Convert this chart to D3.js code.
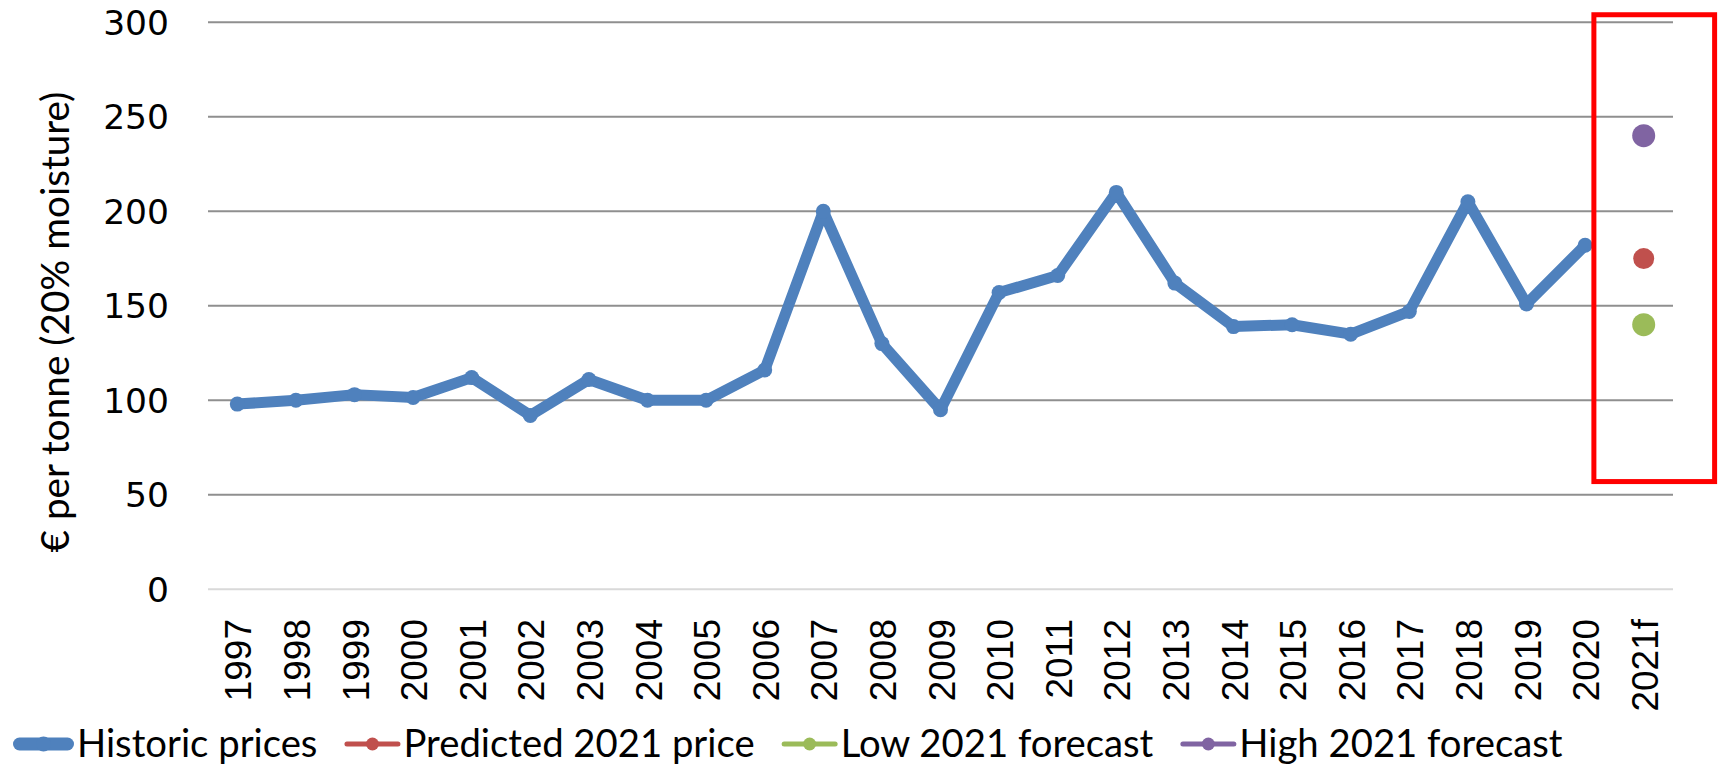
<!DOCTYPE html>
<html>
<head>
<meta charset="utf-8">
<script src="https://cdn.jsdelivr.net/npm/d3@7"></script>
<style>
  html, body { margin: 0; padding: 0; background: #fff; }
  svg { display: block; }
</style>
</head>
<body>
<svg id="chart" width="1720" height="768"></svg>
<script>
// ---- data ----
const categories = ["1997","1998","1999","2000","2001","2002","2003","2004","2005","2006",
  "2007","2008","2009","2010","2011","2012","2013","2014","2015","2016","2017","2018",
  "2019","2020","2021f"];
const historicYears = categories.slice(0, 24);
const historicPrices = [98, 100, 103, 101.5, 112, 92, 111, 100, 100, 116,
  200, 130, 95, 157, 166, 210, 162, 139, 140, 135, 147, 205, 151, 182];
const forecastCategory = "2021f";
const predicted2021 = [175];
const low2021 = [140];
const high2021 = [240];
const yTicks = [0, 50, 100, 150, 200, 250, 300];
const seriesNames = ["Historic prices", "Predicted 2021 price", "Low 2021 forecast", "High 2021 forecast"];
const axisTitle = "€ per tonne (20% moisture)";

// ---- styles ----
const colors = { hist: "#4F81BD", pred: "#C0504D", low: "#9BBB59", high: "#8064A2" };
const humanist = "Lato, 'Noto Sans', sans-serif";

const svg = d3.select("#chart");
const plot = { left: 208, right: 1673, top: 22.3, bottom: 589.3 };

const x = d3.scalePoint().domain(categories).range([plot.left, plot.right]).padding(0.5);
const y = d3.scaleLinear().domain([0, 300]).range([plot.bottom, plot.top]);

// gridlines
svg.append("g").selectAll("line").data(yTicks.filter(d => d > 0)).join("line")
  .attr("x1", plot.left).attr("x2", plot.right)
  .attr("y1", d => y(d)).attr("y2", d => y(d))
  .attr("stroke", "#8f8f8f").attr("stroke-width", 2);

// zero axis line
svg.append("line")
  .attr("x1", plot.left).attr("x2", plot.right)
  .attr("y1", y(0)).attr("y2", y(0))
  .attr("stroke", "#d9d9d9").attr("stroke-width", 2);

// y tick labels
svg.append("g").selectAll("text").data(yTicks).join("text")
  .attr("x", 169).attr("y", d => y(d))
  .attr("dy", "0.36em")
  .attr("text-anchor", "end")
  .attr("font-family", "'DejaVu Sans', Verdana, sans-serif")
  .attr("font-size", 34.5)
  .attr("fill", "#000")
  .text(d => d);

// x tick labels (rotated)
svg.append("g").selectAll("text").data(categories).join("text")
  .attr("transform", d => `translate(${x(d)},619) rotate(-90)`)
  .attr("dy", "0.38em")
  .attr("text-anchor", "end")
  .attr("font-family", "'Liberation Sans', Arial, sans-serif")
  .attr("font-size", 37)
  .attr("fill", "#000")
  .text(d => d);

// y axis title
const yTitle = svg.append("text")
  .attr("transform", `translate(54,322) rotate(-90)`)
  .attr("text-anchor", "middle")
  .attr("dominant-baseline", "central")
  .attr("font-family", humanist)
  .attr("font-size", 40)
  .attr("fill", "#000")
  .text(axisTitle);
(function fit(sel, target) {
  const w = sel.node().getComputedTextLength();
  const fs = +sel.attr("font-size");
  sel.attr("font-size", fs * target / w);
})(yTitle, 461);

// historic line
const line = d3.line().x((d, i) => x(historicYears[i])).y(d => y(d));
svg.append("path").datum(historicPrices)
  .attr("d", line)
  .attr("fill", "none")
  .attr("stroke", colors.hist)
  .attr("stroke-width", 11)
  .attr("stroke-linejoin", "round")
  .attr("stroke-linecap", "round");
svg.append("g").selectAll("circle").data(historicPrices).join("circle")
  .attr("cx", (d, i) => x(historicYears[i])).attr("cy", d => y(d))
  .attr("r", 7.5).attr("fill", colors.hist);

// forecast points
const fc = [
  { v: high2021[0], c: colors.high, r: 11.5 },
  { v: predicted2021[0], c: colors.pred, r: 10.5 },
  { v: low2021[0], c: colors.low, r: 11.5 }
];
svg.append("g").selectAll("circle").data(fc).join("circle")
  .attr("cx", x(forecastCategory)).attr("cy", d => y(d.v))
  .attr("r", d => d.r).attr("fill", d => d.c);

// red highlight box around forecast column
const step = x.step();
svg.append("rect")
  .attr("x", x(forecastCategory) - step * 0.85)
  .attr("y", y(304))
  .attr("width", step * 2.06)
  .attr("height", y(57) - y(304))
  .attr("fill", "none")
  .attr("stroke", "#FF0000")
  .attr("stroke-width", 5);

// legend
const legendY = 744;
const legend = svg.append("g");
const legendItems = [
  { name: seriesNames[0], c: colors.hist, w: 61, lw: 13, r: 7.5 },
  { name: seriesNames[1], c: colors.pred, w: 56, lw: 5, r: 6.5 },
  { name: seriesNames[2], c: colors.low, w: 56, lw: 5, r: 6.5 },
  { name: seriesNames[3], c: colors.high, w: 56, lw: 5, r: 6.5 }
];
const tmp = legend.append("g");
let total = 0;
legendItems.forEach(it => {
  const t = tmp.append("text").attr("font-family", humanist).attr("font-size", 40).text(it.name);
  total += t.node().getComputedTextLength();
});
tmp.remove();
const legendFs = 40 * 1228 / total;

let cx = 13;
legendItems.forEach(it => {
  const g = legend.append("g");
  const half = it.lw / 2;
  g.append("line")
    .attr("x1", cx + half).attr("x2", cx + it.w - half)
    .attr("y1", legendY).attr("y2", legendY)
    .attr("stroke", it.c).attr("stroke-width", it.lw)
    .attr("stroke-linecap", "round");
  g.append("circle").attr("cx", cx + it.w / 2).attr("cy", legendY).attr("r", it.r).attr("fill", it.c);
  const t = g.append("text")
    .attr("x", cx + it.w + 3).attr("y", 757)
    .attr("font-family", humanist).attr("font-size", legendFs)
    .attr("fill", "#000").text(it.name);
  cx = cx + it.w + 3 + t.node().getComputedTextLength() + 27;
});
</script>
</body>
</html>
